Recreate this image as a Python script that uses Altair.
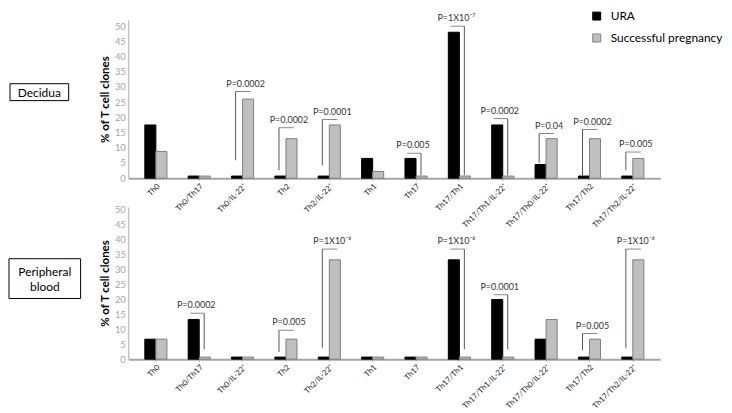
import altair as alt
import pandas as pd

categories = ["Th0", "Th0/Th17", "Th0/IL-22⁺", "Th2", "Th2/IL-22⁺", "Th1", "Th17",
              "Th17/Th1", "Th17/Th1/IL-22⁺", "Th17/Th0/IL-22⁺", "Th17/Th2", "Th17/Th2/IL-22⁺"]
groups = ["URA", "Successful pregnancy"]

decidua_ura = [17.5, 0.7, 0.7, 0.7, 0.7, 6.5, 6.5, 48, 17.5, 4.5, 0.7, 0.7]
decidua_sp = [8.8, 0.7, 26, 13, 17.5, 2.2, 0.7, 0.7, 0.7, 13, 13, 6.5]
blood_ura = [6.7, 13.3, 0.7, 0.7, 0.7, 0.7, 0.7, 33.3, 20, 6.7, 0.7, 0.7]
blood_sp = [6.7, 0.7, 0.7, 6.7, 33.3, 0.7, 0.7, 0.7, 0.7, 13.3, 6.7, 33.3]

dec_br_cat = ["Th0/IL-22⁺", "Th2", "Th2/IL-22⁺", "Th17", "Th17/Th1", "Th17/Th1/IL-22⁺",
              "Th17/Th0/IL-22⁺", "Th17/Th2", "Th17/Th2/IL-22⁺"]
dec_br_p = ["P=0.0002", "P=0.0002", "P=0.0001", "P=0.005", "P=1X10⁻⁷", "P=0.0002",
            "P=0.04", "P=0.0002", "P=0.005"]
dec_br_lo = [5.9, 2.6, 4.2, 1, 1, 1, 4.9, 1, 2.6]
dec_br_hi = [28.5, 16.6, 19.3, 8.2, 50, 19.6, 14.7, 16, 8.6]
dec_br_side = ["L", "L", "L", "R", "R", "R", "L", "L", "L"]

bl_br_cat = ["Th0/Th17", "Th2", "Th2/IL-22⁺", "Th17/Th1", "Th17/Th1/IL-22⁺", "Th17/Th2",
             "Th17/Th2/IL-22⁺"]
bl_br_p = ["P=0.0002", "P=0.005", "P=1X10⁻⁶", "P=1X10⁻⁶", "P=0.0001", "P=0.005", "P=1X10⁻⁶"]
bl_br_lo = [3.3, 2.4, 3.8, 3.3, 3.3, 3, 3.8]
bl_br_hi = [15.4, 9.7, 36.9, 36.9, 21.6, 8.6, 36.9]
bl_br_side = ["R", "L", "L", "R", "R", "L", "L"]

FONT = "Lato"
YTITLE = "% of T cell clones"


def bars_df(ura, sp):
    rows = []
    for c, u, s in zip(categories, ura, sp):
        rows.append({"cat": c, "group": groups[0], "value": u})
        rows.append({"cat": c, "group": groups[1], "value": s})
    return pd.DataFrame(rows)


def panel(ura, sp, bcat, bp, blo, bhi, bside, ymax, height, legend, box_lines, box_rect, box_text_xy):
    df = bars_df(ura, sp)
    br = pd.DataFrame({"cat": bcat, "p": bp, "lo": blo, "hi": bhi, "side": bside})

    xaxis = alt.Axis(title=None, labelAngle=-45, labelFont=FONT, labelFontSize=7.8,
                     labelColor="#222222", domainColor="#a6a6a6", domainWidth=2,
                     tickSize=2, tickColor="#a6a6a6", labelPadding=2)
    xscale = alt.Scale(paddingInner=0.49, paddingOuter=0.38)
    yaxis = alt.Axis(values=list(range(0, 51, 5)), title=YTITLE, titleFont=FONT,
                     titleFontSize=11.5, titleFontWeight="bold", titleColor="#000000",
                     titlePadding=4, labelFont=FONT, labelFontSize=9.5, labelColor="#a6a6a6",
                     ticks=False, labelPadding=3, grid=False, domainColor="#a6a6a6",
                     labelOverlap=False, labelFlush=False)
    yscale = alt.Scale(domain=[0, ymax], nice=False)

    color_kwargs = dict(sort=groups, scale=alt.Scale(domain=groups, range=["#000000", "#bfbfbf"]))
    stroke_kwargs = dict(sort=groups, scale=alt.Scale(domain=groups, range=["#000000", "#7f7f7f"]))
    if legend:
        leg = alt.Legend(orient="none", legendX=465, legendY=-10, title=None,
                         symbolType="square", symbolSize=64, labelFont=FONT,
                         labelFontSize=12, rowPadding=10, labelOffset=8,
                         labelColor="#000000", symbolStrokeWidth=1)
        color = alt.Color("group:N", legend=leg, **color_kwargs)
        stroke = alt.Stroke("group:N", legend=leg, **stroke_kwargs)
    else:
        color = alt.Color("group:N", legend=None, **color_kwargs)
        stroke = alt.Stroke("group:N", legend=None, **stroke_kwargs)

    bx = alt.X("cat:N", sort=categories, scale=xscale, axis=xaxis)

    bars = alt.Chart(df).mark_bar(strokeWidth=1).encode(
        x=bx,
        xOffset=alt.XOffset("group:N", sort=groups, scale=alt.Scale(paddingInner=0, paddingOuter=0)),
        y=alt.Y("value:Q", scale=yscale, axis=yaxis),
        color=color,
        stroke=stroke,
    )

    layers = [bars]
    for side, vx, hc, hs, tdx in [("L", -7, 0.5, 15, 3), ("R", 5, -2, 14, -3)]:
        base = alt.Chart(br).transform_filter(alt.datum.side == side)
        layers.append(base.mark_rule(color="#555555", strokeWidth=1, xOffset=vx).encode(
            x=bx, y=alt.Y("lo:Q", scale=yscale, axis=yaxis), y2="hi:Q"))
        layers.append(base.mark_tick(color="#555555", orient="horizontal", size=hs,
                                     thickness=1, xOffset=hc).encode(
            x=bx, y=alt.Y("hi:Q", scale=yscale, axis=yaxis)))
        layers.append(base.mark_text(font=FONT, fontSize=9, color="#333333", dx=tdx, dy=-3,
                                     baseline="bottom").encode(
            x=bx, y=alt.Y("hi:Q", scale=yscale, axis=yaxis), text="p:N"))

    one = alt.Chart(pd.DataFrame({"t": [0]}))
    layers.append(one.mark_rect(fill="#ffffff", stroke="#000000", strokeWidth=1).encode(
        x=alt.value(box_rect[0]), x2=alt.value(box_rect[1]),
        y=alt.value(box_rect[2]), y2=alt.value(box_rect[3])))
    layers.append(one.mark_text(text=box_lines, font=FONT, fontSize=12, color="#000000",
                                lineHeight=15, align="center", baseline="middle").encode(
        x=alt.value(box_text_xy[0]), y=alt.value(box_text_xy[1])))

    return alt.layer(*layers).properties(width=535, height=height)


top = panel(decidua_ura, decidua_sp, dec_br_cat, dec_br_p, dec_br_lo, dec_br_hi, dec_br_side,
            52, 159, True, "Decidua", (-119, -60, 64, 81), (-89.5, 73))
bottom = panel(blood_ura, blood_sp, bl_br_cat, bl_br_p, bl_br_lo, bl_br_hi, bl_br_side,
               51, 153, False, ["Peripheral", "blood"], (-120, -48, 52, 92), (-84, 65))

chart = alt.vconcat(top, bottom, spacing=29, bounds="flush").resolve_scale(
    color="independent", stroke="independent"
).properties(padding={"left": 0, "top": 0, "right": 0, "bottom": 0}).configure_view(
    stroke="transparent"
)

chart.save("out.html", embed_options={"renderer": "svg", "actions": False})
